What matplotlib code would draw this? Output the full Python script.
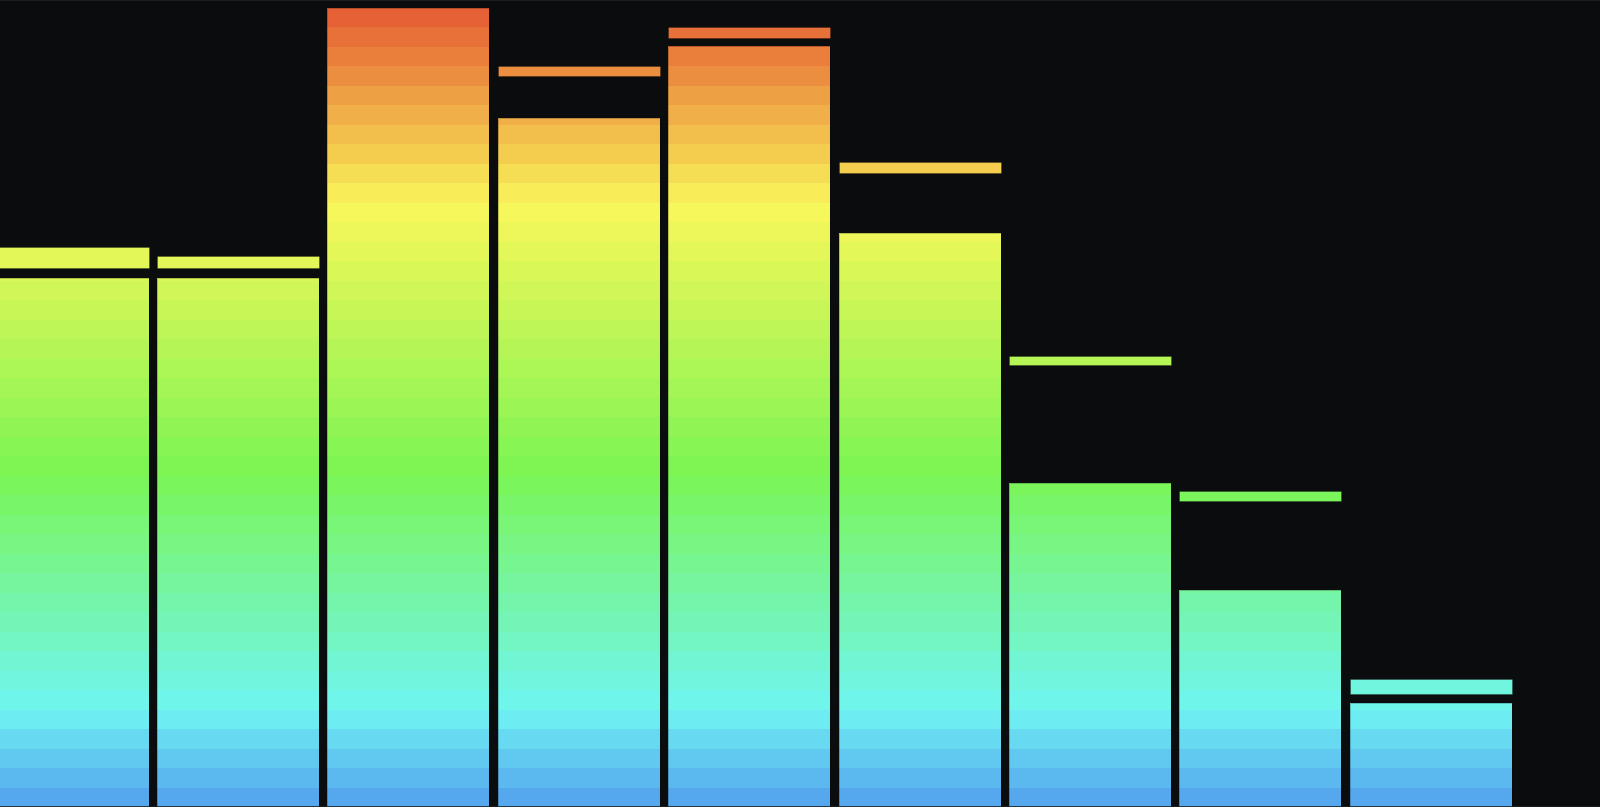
import matplotlib
matplotlib.use("Agg")
import matplotlib.pyplot as plt
from matplotlib.colors import LinearSegmentedColormap
import numpy as np

# bar levels (0-100 scale) and peak-hold markers
levels = [66.2, 66.2, 100.0, 86.2, 95.2, 71.9, 40.5, 27.2, 13.0]
peak_top = [70.1, 68.9, 100.0, 92.7, 97.6, 80.7, 56.5, 39.6, 16.0]
peak_bottom = [67.4, 67.4, 100.0, 91.5, 96.3, 79.4, 55.3, 38.3, 14.1]

n_segments = 41
bg = "#0b0c0e"

# colour of each segment follows its height
cmap = LinearSegmentedColormap.from_list("meter", [
    (0.0, "#53a0ee"),
    (0.121, "#70f5f2"),
    (0.42, "#7bf553"),
    (0.753, "#f9f75a"),
    (1.0, "#e55a33"),
])
seg_h = 100.0 / n_segments

def seg_color(v):
    k = min(int(v // seg_h), n_segments - 1)
    return cmap((k + 0.5) / n_segments)

fig = plt.figure(figsize=(16, 8.07), dpi=100, facecolor=bg)
ax = fig.add_axes([0, 0, 1, 1])
ax.set_facecolor(bg)

x = np.arange(len(levels))
width = 0.95

for i, v in enumerate(levels):
    for k in range(n_segments):
        lo = k * seg_h
        if lo >= v:
            break
        hi = min(lo + seg_h, v)
        ax.bar(x[i], hi - lo, bottom=lo, width=width, color=cmap((k + 0.5) / n_segments),
               linewidth=0)
    # thin outline
    ax.bar(x[i], v, width=width, fill=False, edgecolor=(0, 0, 0, 0.25), linewidth=0.6)

    if peak_top[i] > v:
        ax.bar(x[i], peak_top[i] - peak_bottom[i], bottom=peak_bottom[i], width=width,
               color=seg_color(peak_top[i] - 0.1), edgecolor=(0, 0, 0, 0.25), linewidth=0.6)

ax.set_xlim(-0.397, 8.993)
ax.set_ylim(0, 101.0)
ax.set_xticks([])
ax.set_yticks([])
for side in ["left", "right"]:
    ax.spines[side].set_visible(False)
for side in ["top", "bottom"]:
    ax.spines[side].set_color("#1f2023")
    ax.spines[side].set_linewidth(1.2)

fig.savefig("out.png", dpi=100, facecolor=bg)
